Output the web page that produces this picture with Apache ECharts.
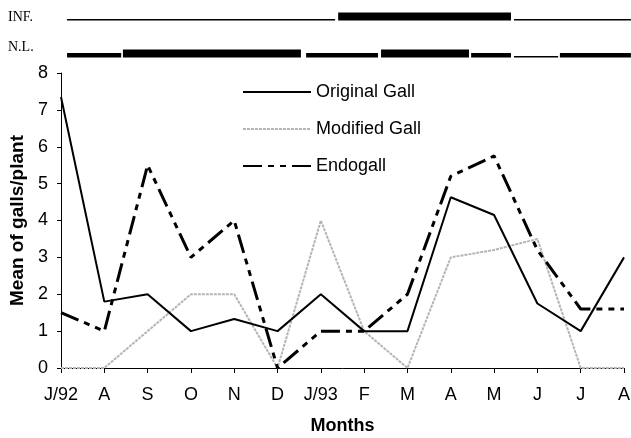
<!DOCTYPE html>
<html>
<head>
<meta charset="utf-8">
<script src="https://cdn.jsdelivr.net/npm/echarts@6/dist/echarts.min.js"></script>
<style>
  html, body { margin: 0; padding: 0; background: #fff; }
  #chart { width: 631px; height: 438px; }
</style>
</head>
<body>
<div id="chart"></div>
<script>
// months Jul/92 .. Aug/93
var months = ['J/92', 'A', 'S', 'O', 'N', 'D', 'J/93', 'F', 'M', 'A', 'M', 'J', 'J', 'A'];
var originalGall = [7.35, 1.8, 2.0, 1.0, 1.33, 1.0, 2.0, 1.0, 1.0, 4.63, 4.15, 1.75, 1.0, 3.0];
var modifiedGall = [0, 0, 1.0, 2.0, 2.0, 0, 4.0, 1.0, 0, 3.0, 3.2, 3.5, 0, 0];
var endogall = [1.5, 1.0, 5.5, 3.0, 4.0, 0, 1.0, 1.0, 2.0, 5.2, 5.75, 3.2, 1.6, 1.6];
var yTicks = [0, 1, 2, 3, 4, 5, 6, 7, 8];

// top timeline rows, periods in month-index units: [start, end, level 0..2]
var timelineRows = ['INF.', 'N.L.'];
var infPeriods = [[0.14, 6.33, 0], [6.40, 10.39, 2], [10.46, 13.16, 0]];
var nlPeriods = [[0.14, 1.39, 1], [1.43, 5.54, 2], [5.66, 7.32, 1], [7.39, 9.42, 2],
                 [9.47, 10.39, 1], [10.46, 11.48, 0], [11.52, 13.16, 1]];

var font = 'Liberation Sans, Arial, sans-serif';
var thickness = [1.6, 4.5, 8];

var periodData = [];
infPeriods.forEach(function (p) { periodData.push([p[0], p[1], p[2], 0]); });
nlPeriods.forEach(function (p) { periodData.push([p[0], p[1], p[2], 1]); });

var chart = echarts.init(document.getElementById('chart'));
chart.setOption({
  animation: false,
  textStyle: { fontFamily: font },
  grid: [
    { left: 61, right: 7, top: 73, bottom: 70, outerBoundsMode: 'none' },
    { left: 61, right: 7, top: 2, height: 74, outerBoundsMode: 'none' }
  ],
  legend: {
    left: 237,
    top: 78,
    orient: 'vertical',
    itemWidth: 68,
    itemHeight: 14,
    itemGap: 19,
    itemStyle: { opacity: 0, borderWidth: 0 },
    textStyle: { fontSize: 18, color: '#000', fontFamily: font },
    data: ['Original Gall', 'Modified Gall', 'Endogall']
  },
  xAxis: [
    {
      type: 'category',
      gridIndex: 0,
      data: months,
      boundaryGap: false,
      axisLine: { lineStyle: { color: '#000', width: 1 } },
      axisTick: { alignWithLabel: true, length: 5, lineStyle: { color: '#000' } },
      axisLabel: { color: '#000', fontSize: 18, margin: 18, interval: 0 },
      name: 'Months',
      nameLocation: 'middle',
      nameGap: 49,
      nameTextStyle: { fontSize: 18, fontWeight: 'bold', color: '#000' }
    },
    {
      type: 'value',
      gridIndex: 1,
      min: 0,
      max: 13,
      show: false
    }
  ],
  yAxis: [
    {
      type: 'value',
      gridIndex: 0,
      min: yTicks[0],
      max: yTicks[yTicks.length - 1],
      interval: 1,
      splitLine: { show: false },
      axisLine: { show: true, lineStyle: { color: '#000', width: 1 } },
      axisTick: { show: true, length: 4, lineStyle: { color: '#000' } },
      axisLabel: { color: '#000', fontSize: 18, margin: 13 },
      name: 'Mean of galls/plant',
      nameLocation: 'middle',
      nameGap: 33,
      nameTextStyle: { fontSize: 19, fontWeight: 'bold', color: '#000' }
    },
    {
      type: 'category',
      gridIndex: 1,
      data: timelineRows,
      inverse: true,
      axisLine: { show: false },
      axisTick: { show: false },
      splitLine: { show: false },
      axisLabel: {
        align: 'left',
        margin: 53,
        formatter: function (v, i) {
          return i === 0 ? '{a|' + v + '}' : '{b|' + v + '}';
        },
        rich: {
          a: { color: '#000', fontSize: 14, fontFamily: 'Liberation Serif, Times New Roman, serif', padding: [0, 0, 6, 0] },
          b: { color: '#000', fontSize: 14, fontFamily: 'Liberation Serif, Times New Roman, serif', padding: [0, 0, 21, 0] }
        }
      }
    }
  ],
  series: [
    {
      name: 'Original Gall',
      type: 'line',
      data: originalGall,
      symbol: 'none',
      showSymbol: false,
      lineStyle: { color: '#000', width: 2 },
      itemStyle: { color: '#000' },
      z: 3
    },
    {
      name: 'Modified Gall',
      type: 'line',
      data: modifiedGall,
      symbol: 'none',
      showSymbol: false,
      lineStyle: { color: '#b5b5b5', width: 2, type: [3, 1] },
      itemStyle: { color: '#b5b5b5' },
      z: 2
    },
    {
      name: 'Endogall',
      type: 'line',
      data: endogall,
      symbol: 'none',
      showSymbol: false,
      lineStyle: { color: '#000', width: 3, type: [19, 6, 6, 6, 6, 6] },
      itemStyle: { color: '#000' },
      z: 4
    },
    {
      name: 'timeline',
      type: 'custom',
      xAxisIndex: 1,
      yAxisIndex: 1,
      clip: false,
      silent: true,
      data: periodData,
      renderItem: function (params, api) {
        var a = api.coord([api.value(0), api.value(3)]);
        var b = api.coord([api.value(1), api.value(3)]);
        var h = thickness[api.value(2)];
        return {
          type: 'rect',
          shape: { x: a[0], y: a[1] - h, width: b[0] - a[0], height: h },
          style: { fill: '#000' }
        };
      }
    }
  ]
});
</script>
</body>
</html>
